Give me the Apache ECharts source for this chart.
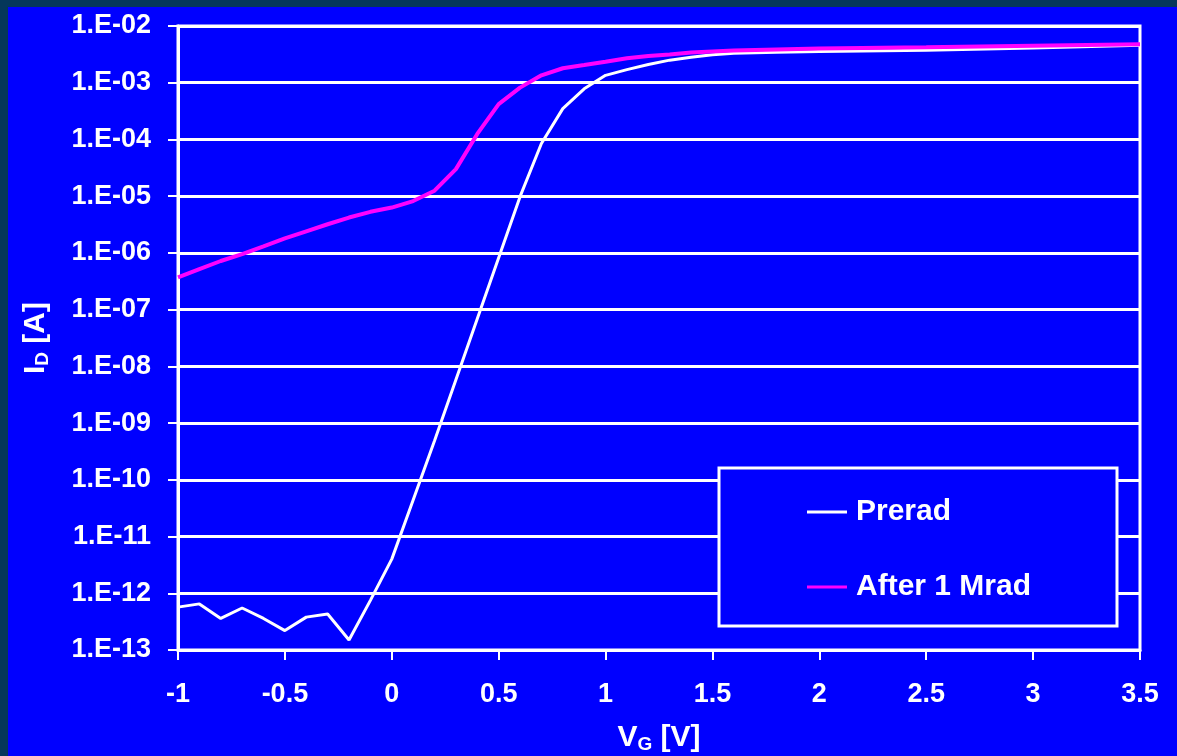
<!DOCTYPE html>
<html>
<head>
<meta charset="utf-8">
<script src="https://cdn.jsdelivr.net/npm/echarts@6/dist/echarts.min.js"></script>
<style>
  html, body { margin: 0; padding: 0; background: #05375a; width: 1177px; height: 756px; overflow: hidden; }
  #chart { position: absolute; left: 8px; top: 7px; width: 1169px; height: 749px; background: #0000ff; }
</style>
</head>
<body>
<div id="chart"></div>
<script>
// Gate voltage sweep (V)
const vg = [-1.0, -0.9, -0.8, -0.7, -0.6, -0.5, -0.4, -0.3, -0.2, -0.1,
            0.0, 0.1, 0.2, 0.3, 0.4, 0.5, 0.6, 0.7, 0.8, 0.9,
            1.0, 1.1, 1.2, 1.3, 1.4, 1.5, 1.6, 1.8, 2.0, 2.5, 3.0, 3.5];

// Drain current before irradiation (A)
const preradId = [5.7e-13, 6.5e-13, 3.6e-13, 5.5e-13, 3.6e-13, 2.2e-13, 3.8e-13, 4.3e-13, 1.5e-13, 7.5e-13,
                  4.0e-12, 4.4e-11, 4.9e-10, 5.8e-9, 6.9e-8, 8.2e-7, 9.8e-6, 8.5e-5, 3.5e-4, 7.8e-4,
                  1.35e-3, 1.7e-3, 2.1e-3, 2.5e-3, 2.8e-3, 3.1e-3, 3.3e-3, 3.45e-3, 3.55e-3, 3.75e-3, 4.1e-3, 4.6e-3];

// Drain current after 1 Mrad total dose (A)
const afterId = [3.7e-7, 5.2e-7, 7.2e-7, 9.5e-7, 1.3e-6, 1.8e-6, 2.4e-6, 3.2e-6, 4.2e-6, 5.3e-6,
                 6.3e-6, 8.2e-6, 1.25e-5, 3.0e-5, 1.25e-4, 4.2e-4, 8.2e-4, 1.35e-3, 1.8e-3, 2.05e-3,
                 2.35e-3, 2.7e-3, 2.95e-3, 3.15e-3, 3.4e-3, 3.55e-3, 3.7e-3, 3.85e-3, 4.0e-3, 4.2e-3, 4.5e-3, 4.75e-3];

const seriesNames = ['Prerad', 'After 1 Mrad'];

const FONT = '"Liberation Sans", Arial, sans-serif';
const pair = (ys) => vg.map((v, i) => [v, ys[i]]);

function sciLabel(v) {
  const e = Math.round(Math.log10(v));
  const s = e < 0 ? '-' : '+';
  const a = Math.abs(e);
  return '1.E' + s + (a < 10 ? '0' + a : '' + a);
}

const chart = echarts.init(document.getElementById('chart'), null, { renderer: 'canvas' });

const nameRich = {
  v: { color: '#ffffff', fontFamily: FONT, fontWeight: 'bold', fontSize: 30 },
  s: { color: '#ffffff', fontFamily: FONT, fontWeight: 'bold', fontSize: 19, verticalAlign: 'bottom', padding: [13, 0, 0, 0] }
};

chart.setOption({
  backgroundColor: '#0000ff',
  animation: false,
  grid: {
    left: 170, right: 37, top: 19, bottom: 106,
    outerBoundsMode: 'none',
    containLabel: false,
    show: true, borderColor: '#ffffff', borderWidth: 3, backgroundColor: 'transparent'
  },
  xAxis: {
    type: 'value',
    min: -1, max: 3.5, interval: 0.5,
    axisLine: { show: true, onZero: false, lineStyle: { color: '#ffffff', width: 3 } },
    axisTick: { show: true, inside: false, length: 10, lineStyle: { color: '#ffffff', width: 2 } },
    splitLine: { show: false },
    axisLabel: { color: '#ffffff', fontFamily: FONT, fontWeight: 'bold', fontSize: 27, margin: 31 },
    name: '{v|V}{s|G}{v| [V]}',
    nameLocation: 'middle',
    nameGap: 72,
    nameTextStyle: { rich: nameRich }
  },
  yAxis: {
    type: 'log',
    logBase: 10,
    min: 1e-13, max: 1e-2, interval: 1,
    axisLine: { show: true, onZero: false, lineStyle: { color: '#ffffff', width: 3 } },
    axisTick: { show: true, inside: false, length: 10, lineStyle: { color: '#ffffff', width: 2 } },
    minorTick: { show: false },
    splitLine: { show: true, lineStyle: { color: '#ffffff', width: 3 } },
    axisLabel: {
      color: '#ffffff', fontFamily: FONT, fontWeight: 'bold', fontSize: 27, margin: 27,
      formatter: sciLabel
    },
    name: '{v|I}{s|D}{v| [A]}',
    nameLocation: 'middle',
    nameGap: 126,
    nameRotate: 90,
    nameTextStyle: { rich: nameRich }
  },
  graphic: [{
    type: 'rect',
    z: 50,
    shape: { x: 711, y: 461, width: 398, height: 158 },
    style: { fill: '#0000ff', stroke: '#ffffff', lineWidth: 3 }
  }],
  legend: {
    z: 60,
    orient: 'vertical',
    left: 794,
    top: 484,
    itemWidth: 40,
    itemHeight: 14,
    itemGap: 43,
    data: seriesNames.map((n) => ({ name: n, icon: 'path://M0,6 L40,6 L40,9 L0,9 Z' })),
    textStyle: { color: '#ffffff', fontFamily: FONT, fontWeight: 'bold', fontSize: 30, lineHeight: 32, padding: [0, 0, 0, 4] }
  },
  series: [
    {
      name: seriesNames[0],
      type: 'line',
      data: pair(preradId),
      showSymbol: false,
      symbol: 'none',
      color: '#ffffff',
      lineStyle: { color: '#ffffff', width: 3 },
      z: 3
    },
    {
      name: seriesNames[1],
      type: 'line',
      data: pair(afterId),
      showSymbol: false,
      symbol: 'none',
      color: '#ff00ff',
      lineStyle: { color: '#ff00ff', width: 4 },
      z: 4
    }
  ]
});
</script>
</body>
</html>
